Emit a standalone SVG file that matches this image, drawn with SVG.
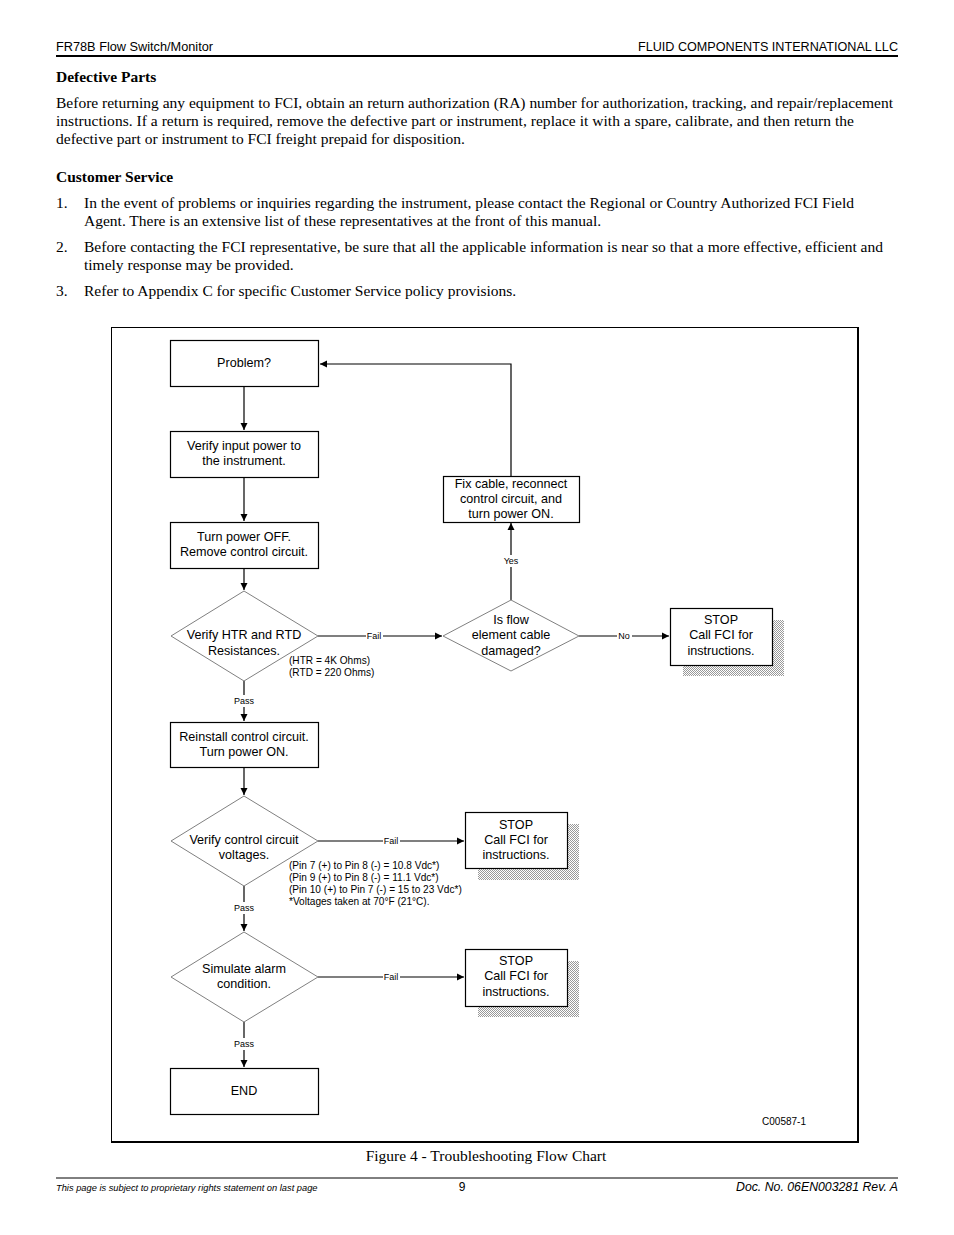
<svg xmlns="http://www.w3.org/2000/svg" width="954" height="1235" viewBox="0 0 954 1235">
<defs>
<style>
.s{font-family:"Liberation Sans",Arial,sans-serif;fill:#000}
.r{font-family:"Liberation Serif","Times New Roman",serif;fill:#000}
.n{font-size:12.6px;text-anchor:middle}
.l{font-size:9px;text-anchor:middle}
.m{font-size:10.1px}
.bx{fill:#fff;stroke:#000;stroke-width:1.2}
.dm{fill:#fff;stroke:#808080;stroke-width:1}
.c{fill:none;stroke:#000;stroke-width:1.2}
.p{font-size:15.5px}
</style>
<pattern id="dots" width="2" height="2" patternUnits="userSpaceOnUse">
<rect width="2" height="2" fill="#fff"/>
<rect width="1" height="1" fill="#999"/>
<rect x="1" y="1" width="1" height="1" fill="#999"/>
</pattern>
<marker id="ah" markerWidth="8" markerHeight="8" refX="7" refY="4" orient="auto" markerUnits="userSpaceOnUse">
<path d="M0,0.5 L7,4 L0,7.5 Z" fill="#000"/>
</marker>
</defs>
<rect width="954" height="1235" fill="#fff"/>

<g id="header">
<text class="s" x="56" y="51" font-size="12" textLength="157" lengthAdjust="spacingAndGlyphs">FR78B Flow Switch/Monitor</text>
<text class="s" x="898" y="51" font-size="12" text-anchor="end" textLength="260" lengthAdjust="spacingAndGlyphs">FLUID COMPONENTS INTERNATIONAL LLC</text>
<line x1="56" y1="56" x2="898" y2="56" stroke="#000" stroke-width="2"/>
</g>

<g id="body" xml:space="preserve">
<text class="r" x="56" y="82" font-size="15.5" font-weight="bold">Defective Parts</text>
<text class="r p" x="56" y="108" textLength="837" lengthAdjust="spacing">Before returning any equipment to FCI, obtain an return authorization (RA) number for authorization, tracking, and repair/replacement</text>
<text class="r p" x="56" y="126" textLength="798" lengthAdjust="spacing">instructions.  If a return is required, remove the defective part or instrument, replace it with a spare, calibrate, and then return the</text>
<text class="r p" x="56" y="144">defective part or instrument to FCI freight prepaid for disposition.</text>
<text class="r" x="56" y="182" font-size="15.5" font-weight="bold">Customer Service</text>
<text class="r p" x="56" y="208">1.</text>
<text class="r p" x="84" y="208" textLength="770" lengthAdjust="spacing">In the event of problems or inquiries regarding the instrument, please contact the Regional or Country Authorized FCI Field</text>
<text class="r p" x="84" y="226">Agent.  There is an extensive list of these representatives at the front of this manual.</text>
<text class="r p" x="56" y="252">2.</text>
<text class="r p" x="84" y="252" textLength="799" lengthAdjust="spacing">Before contacting the FCI representative, be sure that all the applicable information is near so that a more effective, efficient and</text>
<text class="r p" x="84" y="270">timely response may be provided.</text>
<text class="r p" x="56" y="296">3.</text>
<text class="r p" x="84" y="296">Refer to Appendix C for specific Customer Service policy provisions.</text>
</g>

<g id="frame">
<rect x="111.5" y="327.5" width="746.5" height="814.5" fill="none" stroke="#000" stroke-width="1"/>
<line x1="858" y1="327" x2="858" y2="1143" stroke="#000" stroke-width="2"/>
<line x1="111" y1="1142" x2="859" y2="1142" stroke="#000" stroke-width="2"/>
</g>

<g id="connectors">
<line class="c" x1="244" y1="386" x2="244" y2="430" marker-end="url(#ah)"/>
<line class="c" x1="244" y1="477" x2="244" y2="521" marker-end="url(#ah)"/>
<line class="c" x1="244" y1="568" x2="244" y2="590" marker-end="url(#ah)"/>
<line class="c" x1="244" y1="681" x2="244" y2="695"/>
<line class="c" x1="244" y1="707" x2="244" y2="721" marker-end="url(#ah)"/>
<line class="c" x1="244" y1="767" x2="244" y2="795" marker-end="url(#ah)"/>
<line class="c" x1="244" y1="886" x2="244" y2="902"/>
<line class="c" x1="244" y1="914" x2="244" y2="931" marker-end="url(#ah)"/>
<line class="c" x1="244" y1="1022" x2="244" y2="1038"/>
<line class="c" x1="244" y1="1050" x2="244" y2="1067" marker-end="url(#ah)"/>
<line class="c" x1="318" y1="636" x2="366" y2="636"/>
<line class="c" x1="383" y1="636" x2="442" y2="636" marker-end="url(#ah)"/>
<line class="c" x1="579" y1="636" x2="617" y2="636"/>
<line class="c" x1="632" y1="636" x2="669" y2="636" marker-end="url(#ah)"/>
<line class="c" x1="511" y1="600" x2="511" y2="567"/>
<line class="c" x1="511" y1="555" x2="511" y2="523" marker-end="url(#ah)"/>
<polyline class="c" points="511,476 511,364 320,364" marker-end="url(#ah)"/>
<line class="c" x1="318" y1="841" x2="383" y2="841"/>
<line class="c" x1="400" y1="841" x2="464" y2="841" marker-end="url(#ah)"/>
<line class="c" x1="318" y1="977" x2="383" y2="977"/>
<line class="c" x1="400" y1="977" x2="464" y2="977" marker-end="url(#ah)"/>
<text class="s l" x="374" y="639">Fail</text>
<text class="s l" x="624" y="639">No</text>
<text class="s l" x="511" y="564">Yes</text>
<text class="s l" x="244" y="704">Pass</text>
<text class="s l" x="391" y="844">Fail</text>
<text class="s l" x="244" y="911">Pass</text>
<text class="s l" x="391" y="980">Fail</text>
<text class="s l" x="244" y="1047">Pass</text>
</g>

<g id="n-problem">
<rect class="bx" x="170.5" y="340.5" width="148" height="46"/>
<text class="s n" x="244" y="367">Problem?</text>
</g>
<g id="n-verify-power">
<rect class="bx" x="170.5" y="431.5" width="148" height="46"/>
<text class="s n" x="244" y="450">Verify input power to</text>
<text class="s n" x="244" y="465">the instrument.</text>
</g>
<g id="n-power-off">
<rect class="bx" x="170.5" y="522.5" width="148" height="46"/>
<text class="s n" x="244" y="541">Turn power OFF.</text>
<text class="s n" x="244" y="556">Remove control circuit.</text>
</g>
<g id="n-htr">
<polygon class="dm" points="244,591 318,636 244,681 171,636"/>
<text class="s n" x="244" y="639">Verify HTR and RTD</text>
<text class="s n" x="244" y="655">Resistances.</text>
<text class="s m" x="289" y="664">(HTR = 4K Ohms)</text>
<text class="s m" x="289" y="676">(RTD = 220 Ohms)</text>
</g>
<g id="n-cable">
<polygon class="dm" points="511,600 579,636 511,671 443,636"/>
<text class="s n" x="511" y="624">Is flow</text>
<text class="s n" x="511" y="639">element cable</text>
<text class="s n" x="511" y="655">damaged?</text>
</g>
<g id="n-fix">
<rect class="bx" x="443.5" y="476.5" width="136" height="46"/>
<text class="s n" x="511" y="488">Fix cable, reconnect</text>
<text class="s n" x="511" y="503">control circuit, and</text>
<text class="s n" x="511" y="518">turn power ON.</text>
</g>
<g id="n-stop1">
<rect x="683" y="620" width="101" height="56" fill="url(#dots)"/>
<rect class="bx" x="670.5" y="608.5" width="102" height="57"/>
<text class="s n" x="721" y="624">STOP</text>
<text class="s n" x="721" y="639">Call FCI for</text>
<text class="s n" x="721" y="655">instructions.</text>
</g>
<g id="n-reinstall">
<rect class="bx" x="170.5" y="722.5" width="148" height="45"/>
<text class="s n" x="244" y="741">Reinstall control circuit.</text>
<text class="s n" x="244" y="756">Turn power ON.</text>
</g>
<g id="n-voltages">
<polygon class="dm" points="244,796 318,841 244,886 171,841"/>
<text class="s n" x="244" y="844">Verify control circuit</text>
<text class="s n" x="244" y="859">voltages.</text>
<text class="s m" x="289" y="869">(Pin 7 (+) to Pin 8 (-) = 10.8 Vdc*)</text>
<text class="s m" x="289" y="881">(Pin 9 (+) to Pin 8 (-) = 11.1 Vdc*)</text>
<text class="s m" x="289" y="893">(Pin 10 (+) to Pin 7 (-) = 15 to 23 Vdc*)</text>
<text class="s m" x="289" y="905">*Voltages taken at 70°F (21°C).</text>
</g>
<g id="n-stop2">
<rect x="478" y="824" width="101" height="56" fill="url(#dots)"/>
<rect class="bx" x="465.5" y="812.5" width="102" height="56"/>
<text class="s n" x="516" y="829">STOP</text>
<text class="s n" x="516" y="844">Call FCI for</text>
<text class="s n" x="516" y="859">instructions.</text>
</g>
<g id="n-alarm">
<polygon class="dm" points="244,932 318,977 244,1022 171,977"/>
<text class="s n" x="244" y="973">Simulate alarm</text>
<text class="s n" x="244" y="988">condition.</text>
</g>
<g id="n-stop3">
<rect x="478" y="961" width="101" height="56" fill="url(#dots)"/>
<rect class="bx" x="465.5" y="949.5" width="102" height="57"/>
<text class="s n" x="516" y="965">STOP</text>
<text class="s n" x="516" y="980">Call FCI for</text>
<text class="s n" x="516" y="996">instructions.</text>
</g>
<g id="n-end">
<rect class="bx" x="170.5" y="1068.5" width="148" height="46"/>
<text class="s n" x="244" y="1095">END</text>
</g>
<text class="s" x="784" y="1125" font-size="10" text-anchor="middle">C00587-1</text>

<g id="footer">
<text class="r" x="486" y="1161" font-size="15.5" text-anchor="middle">Figure 4 - Troubleshooting Flow Chart</text>
<line x1="56" y1="1178" x2="898" y2="1178" stroke="#000" stroke-width="1"/>
<text class="s" x="56" y="1191" font-size="9.3" font-style="italic">This page is subject to proprietary rights statement on last page</text>
<text class="s" x="462" y="1191" font-size="12" text-anchor="middle">9</text>
<text class="s" x="898" y="1191" font-size="12.3" font-style="italic" text-anchor="end">Doc. No. 06EN003281 Rev. A</text>
</g>
</svg>
